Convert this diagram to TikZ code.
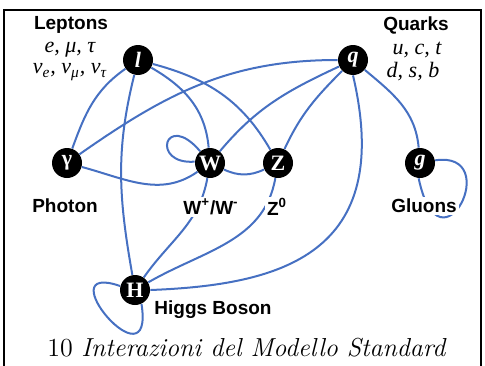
\documentclass[tikz,border=0pt]{standalone}
\usepackage{fontspec}
\newfontfamily\labfont{Liberation Sans}
\newfontfamily\serf{Liberation Serif}
\definecolor{edgeblue}{RGB}{70,112,194}
\begin{document}
\begin{tikzpicture}[x=0.5pt,y=0.5pt,
  particle/.style={circle,fill=black,minimum size=15pt,inner sep=0pt,text=white,
    font=\serf\bfseries\fontsize{11}{11}\selectfont},
  lbl/.style={font=\labfont\bfseries\fontsize{9.5}{11}\selectfont,inner sep=1pt},
  wlbl/.style={lbl,fill=white},
  names/.style={font=\serf\itshape\fontsize{11}{12}\selectfont,inner sep=0pt},
  conn/.style={draw=edgeblue,line width=1pt},
  frame/.style={draw=black,line width=1pt}]
\useasboundingbox (0,0) rectangle (485,365);
\draw[frame] (4,-10) -- (4,355) -- (481,355) -- (481,-10);

% particles
\node[particle] (l) at (138,305) {\itshape l};
\node[particle] (q) at (353,305) {\itshape q};
\node[particle] (ga) at (67,202) {γ};
\node[particle] (W) at (210,202) {W};
\node[particle] (Z) at (278,202) {Z};
\node[particle] (g) at (420,202) {\itshape g};
\node[particle] (H) at (135,75) {H};

% connectors
\draw[conn] (l) to[out=215,in=70] (ga);
\draw[conn] (l) to[out=256,in=100] (H);
\draw[conn] (l) to[out=-30,in=95] (W);
\draw[conn] (l) to[out=-15,in=120] (Z);
\draw[conn] (q) to[out=180,in=35] (ga);
\draw[conn] (q) to[out=205,in=50] (W);
\draw[conn] (q) to[out=225,in=65] (Z);
\draw[conn] (q.south) .. controls (395,110) and (280,80) .. (H.east);
\draw[conn] (q) to[out=-40,in=95] (g);
\draw[conn] (ga) to[out=-15,in=215] (W);
\draw[conn] (W) to[out=-25,in=205] (Z);
\draw[conn] (W) to[out=-100,in=55] (H);
\draw[conn] (Z) to[out=-100,in=30] (H);
% loops
\draw[conn] (W.130) .. controls (165,255) and (150,200) .. (W.175);
\draw[conn] (H.165) .. controls (45,105) and (155,-25) .. (H.-65);
\draw[conn] (g.10) .. controls (505,215) and (440,85) .. (g.-95);

% labels
\node[lbl] (lep) at (71,340) {Leptons};
\node[names] (lepa) at (70,315) {e, μ, τ};
\node[names] (lepb) at (70,293) {ν\textsubscript{e}, ν\textsubscript{μ}, ν\textsubscript{τ}};
\node[lbl] (qua) at (416,340) {Quarks};
\node[names] (quaa) at (417,315) {u, c, t};
\node[names] (quab) at (413,293) {d, s, b};
\node[wlbl] (pho) at (65,159) {Photon};
\node[wlbl] (wl) at (211,158) {W\textsuperscript{+}/W\textsuperscript{-}};
\node[wlbl] (zl) at (277,158) {Z\textsuperscript{0}};
\node[wlbl] (glu) at (424,159) {Gluons};
\node[lbl] (hig) at (213,55) {Higgs Boson};
\node[inner sep=0pt] (cap) at (247,17) {\fontsize{13}{15}\selectfont 10 \textit{Interazioni del Modello Standard}};
\end{tikzpicture}
\end{document}
